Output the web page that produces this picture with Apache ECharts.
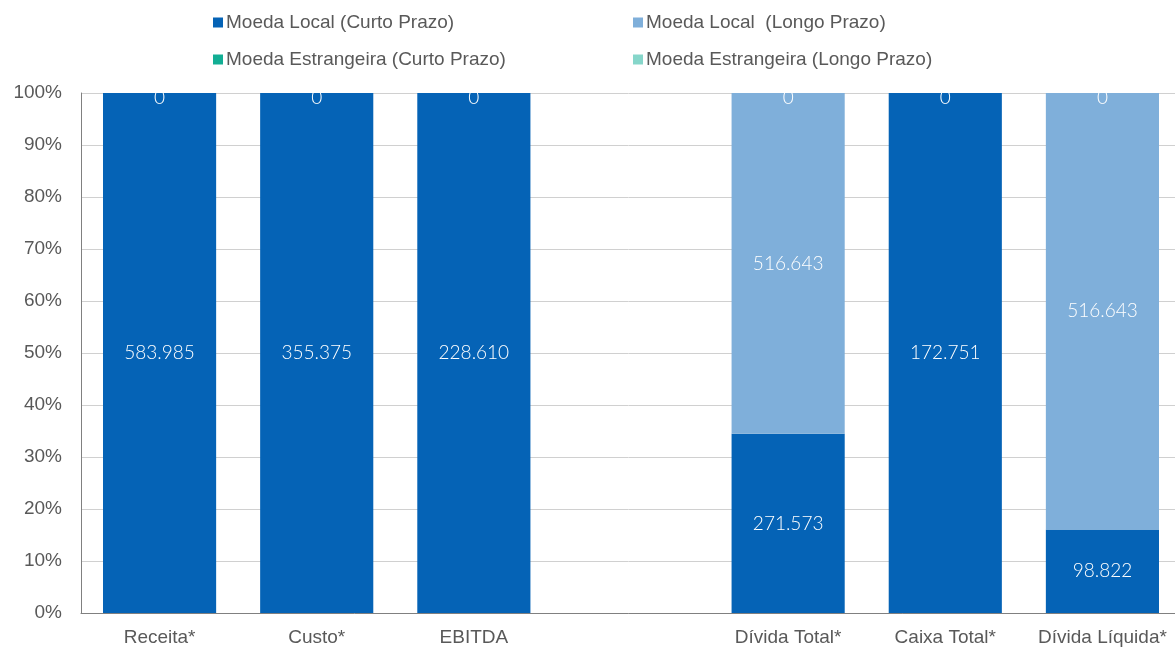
<!DOCTYPE html>
<html>
<head>
<meta charset="utf-8">
<script src="https://cdn.jsdelivr.net/npm/echarts@6/dist/echarts.min.js"></script>
<style>
  html, body { margin: 0; padding: 0; background: #fff; }
  #chart { width: 1175px; height: 647px; }
</style>
</head>
<body>
<div id="chart"></div>
<script>
// categorias (a vazia separa os dois grupos)
var categories = ['Receita*', 'Custo*', 'EBITDA', '', 'Dívida Total*', 'Caixa Total*', 'Dívida Líquida*'];

// valores absolutos (mil)
var localCurto = [583985, 355375, 228610, null, 271573, 172751, 98822];
var localLongo = [0, 0, 0, null, 516643, 0, 516643];
var estrCurto  = [0, 0, 0, null, 0, 0, 0];
var estrLongo  = [0, 0, 0, null, 0, 0, 0];

var seriesNames = ['Moeda Local (Curto Prazo)', 'Moeda Local  (Longo Prazo)',
  'Moeda Estrangeira (Curto Prazo)', 'Moeda Estrangeira (Longo Prazo)'];
var colors = ['#0563B6', '#7FAFDA', '#12AE94', '#86D6CA'];
var raw = [localCurto, localLongo, estrCurto, estrLongo];

// total de cada categoria, para empilhar em 100%
var totals = categories.map(function (c, i) {
  var t = 0;
  raw.forEach(function (s) { t += s[i] || 0; });
  return t;
});

// formato pt-BR: 583985 -> 583.985
function fmt(v) {
  return String(v).replace(/\B(?=(\d{3})+(?!\d))/g, '.');
}

var series = raw.map(function (arr, k) {
  return {
    name: seriesNames[k],
    type: 'bar',
    stack: 'total',
    barCategoryGap: '28%',
    itemStyle: { color: colors[k] },
    label: {
      show: true,
      position: 'inside',
      color: '#fff',
      fontFamily: 'Lato',
      fontWeight: 300,
      fontSize: 19,
      formatter: function (p) { return fmt(arr[p.dataIndex]); }
    },
    data: arr.map(function (v, i) {
      if (v === null) return '-';
      var item = { value: v / totals[i] * 100 };
      // os zeros ficam no topo; só um rótulo "0" por barra, cortado pela borda
      if (v === 0) {
        item.label = k === 3
          ? { position: 'insideTop', distance: 0, offset: [0, -5] }
          : { show: false };
      }
      return item;
    })
  };
});

var legendPos = [[208, 8], [628, 8], [208, 45], [628, 45]];
var legends = seriesNames.map(function (n, k) {
  return {
    data: [n],
    left: legendPos[k][0],
    top: legendPos[k][1],
    icon: 'rect',
    itemWidth: 10,
    itemHeight: 10,
    itemGap: 4,
    textStyle: { color: '#595959', fontSize: 19, fontFamily: 'Liberation Sans', padding: [0, 0, 0, -2] }
  };
});

var chart = echarts.init(document.getElementById('chart'));
chart.setOption({
  animation: false,
  legend: legends,
  // a área do gráfico passa um pouco da borda direita, como no original
  grid: { left: 81, width: 1100, top: 93, bottom: 34, outerBoundsMode: 'none' },
  xAxis: {
    type: 'category',
    data: categories,
    axisTick: { show: false },
    axisLine: { lineStyle: { color: '#808080', width: 1 } },
    axisLabel: { color: '#595959', fontSize: 19, fontFamily: 'Liberation Sans', margin: 15, interval: 0 }
  },
  yAxis: {
    type: 'value',
    min: 0,
    max: 100,
    interval: 10,
    axisLine: { show: true, lineStyle: { color: '#808080' } },
    axisTick: { show: false },
    splitLine: { lineStyle: { color: '#D0D0D0', width: 1 } },
    axisLabel: { color: '#595959', fontSize: 19, fontFamily: 'Liberation Sans', margin: 19, formatter: '{value}%' }
  },
  series: series
});
</script>
</body>
</html>
